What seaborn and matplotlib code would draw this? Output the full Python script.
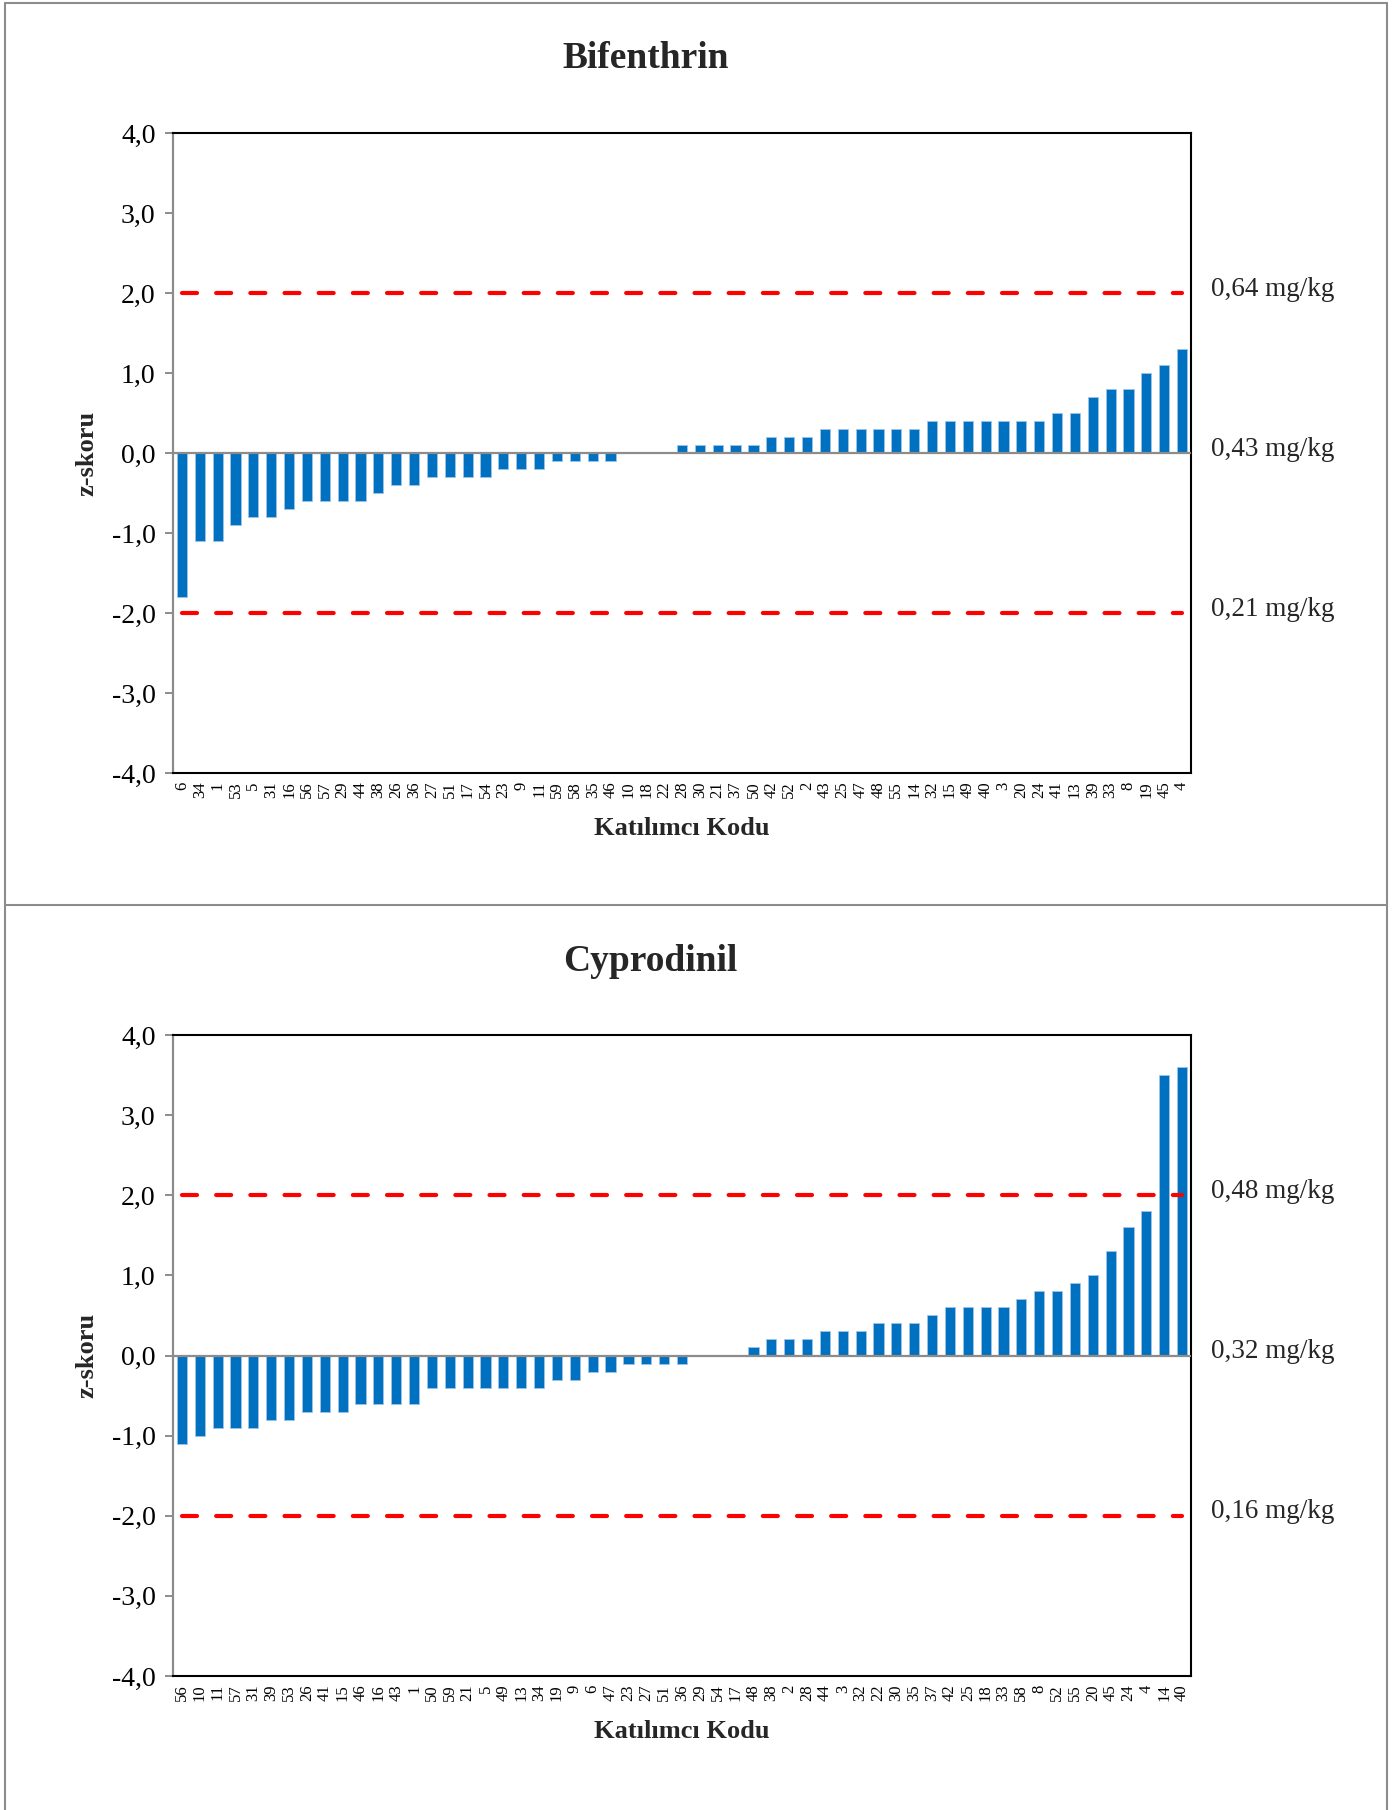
import matplotlib
matplotlib.use("Agg")
import matplotlib.pyplot as plt
import matplotlib.transforms as mtransforms
from matplotlib.lines import Line2D
from matplotlib.ticker import FuncFormatter
import seaborn as sns
import pandas as pd

# ---------------- data ----------------
bif_codes = ["6", "34", "1", "53", "5", "31", "16", "56", "57", "29", "44", "38", "26", "36",
             "27", "51", "17", "54", "23", "9", "11", "59", "58", "35", "46", "10", "18", "22",
             "28", "30", "21", "37", "50", "42", "52", "2", "43", "25", "47", "48", "55", "14",
             "32", "15", "49", "40", "3", "20", "24", "41", "13", "39", "33", "8", "19", "45", "4"]
bif_z = [-1.8, -1.1, -1.1, -0.9, -0.8, -0.8, -0.7, -0.6, -0.6, -0.6, -0.6, -0.5, -0.4, -0.4,
         -0.3, -0.3, -0.3, -0.3, -0.2, -0.2, -0.2, -0.1, -0.1, -0.1, -0.1, 0.0, 0.0, 0.0,
         0.1, 0.1, 0.1, 0.1, 0.1, 0.2, 0.2, 0.2, 0.3, 0.3, 0.3, 0.3, 0.3, 0.3,
         0.4, 0.4, 0.4, 0.4, 0.4, 0.4, 0.4, 0.5, 0.5, 0.7, 0.8, 0.8, 1.0, 1.1, 1.3]

cyp_codes = ["56", "10", "11", "57", "31", "39", "53", "26", "41", "15", "46", "16", "43", "1",
             "50", "59", "21", "5", "49", "13", "34", "19", "9", "6", "47", "23", "27", "51",
             "36", "29", "54", "17", "48", "38", "2", "28", "44", "3", "32", "22", "30", "35",
             "37", "42", "25", "18", "33", "58", "8", "52", "55", "20", "45", "24", "4", "14", "40"]
cyp_z = [-1.1, -1.0, -0.9, -0.9, -0.9, -0.8, -0.8, -0.7, -0.7, -0.7, -0.6, -0.6, -0.6, -0.6,
         -0.4, -0.4, -0.4, -0.4, -0.4, -0.4, -0.4, -0.3, -0.3, -0.2, -0.2, -0.1, -0.1, -0.1,
         -0.1, 0.0, 0.0, 0.0, 0.1, 0.2, 0.2, 0.2, 0.3, 0.3, 0.3, 0.4, 0.4, 0.4,
         0.5, 0.6, 0.6, 0.6, 0.6, 0.7, 0.8, 0.8, 0.9, 1.0, 1.3, 1.6, 1.8, 3.5, 3.6]

bif_limit_labels = ["0,64 mg/kg", "0,43 mg/kg", "0,21 mg/kg"]
cyp_limit_labels = ["0,48 mg/kg", "0,32 mg/kg", "0,16 mg/kg"]
limit_z = [2, 0, -2]
action_z = [2, -2]
y_ticks = [-4, -3, -2, -1, 0, 1, 2, 3, 4]

# ---------------- style ----------------
sns.set_theme(style="white")
plt.rcParams["font.family"] = ["Liberation Serif", "DejaVu Serif"]

W, H = 1394, 1810
fig = plt.figure(figsize=(W / 100, H / 100), dpi=100)
fig.patch.set_facecolor("white")


def fx(x):
    return x / W


def fy(y):
    return 1 - y / H


BAR = "#0070C0"
GRAY = "#8C8C8C"


def draw(ax, codes, z, labels):
    df = pd.DataFrame({"code": codes, "z": z})
    sns.barplot(data=df, x="code", y="z", order=codes, color=BAR, saturation=1,
                width=0.57, edgecolor="#9DC3E6", linewidth=0.6, ax=ax, zorder=2)
    n = len(codes)
    ax.set_xlim(-0.5, n - 0.5)
    ax.set_ylim(y_ticks[0], y_ticks[-1])
    ax.axhline(0, color=GRAY, lw=1.6, zorder=3)
    for v in action_z:
        ax.plot([0, n - 1], [v, v], color="#FF0000", lw=3.0,
                linestyle=(0, (3.6, 4.6)), dash_capstyle="round", zorder=4)
    ax.set_yticks(y_ticks)
    ax.yaxis.set_major_formatter(FuncFormatter(lambda v, p: f"{v:.1f}".replace(".", ",")))
    ax.tick_params(axis="y", which="major", left=True, direction="out", length=5.5,
                   width=1.4, color=GRAY, labelsize=20, pad=7, labelcolor="black")
    ax.tick_params(axis="x", which="major", bottom=False, length=0, labelsize=12,
                   labelrotation=90, pad=6, labelcolor="black")
    ax.set_xlabel("")
    ax.set_ylabel("")
    for side in ["top", "right", "bottom"]:
        ax.spines[side].set_color("black")
        ax.spines[side].set_linewidth(1.5)
        ax.spines[side].set_visible(True)
    ax.spines["left"].set_color(GRAY)
    ax.spines["left"].set_linewidth(1.6)
    ax.spines["left"].set_visible(True)
    ax.grid(False)
    ax.text(-0.0845, 0.5, "z-skoru", transform=ax.transAxes, rotation=90,
            ha="center", va="center", fontsize=19, fontweight="bold")
    ax.text(0.5, -0.086, "Katılımcı Kodu", transform=ax.transAxes,
            ha="center", va="center", fontsize=19, fontweight="bold")
    trans = mtransforms.blended_transform_factory(ax.transAxes, ax.transData)
    for v, lbl in zip(limit_z, labels):
        ax.text(1.0196, v + 0.05, lbl, transform=trans, ha="left", va="center", fontsize=19.5)


ax1 = fig.add_axes([fx(173), fy(773), fx(1191) - fx(173), fy(133) - fy(773)])
draw(ax1, bif_codes, bif_z, bif_limit_labels)
fig.text(fx(646), fy(58), "Bifenthrin", ha="center", va="center", fontsize=27, fontweight="bold")

ax2 = fig.add_axes([fx(173), fy(1676), fx(1191) - fx(173), fy(1035) - fy(1676)])
draw(ax2, cyp_codes, cyp_z, cyp_limit_labels)
fig.text(fx(650), fy(961), "Cyprodinil", ha="center", va="center", fontsize=27, fontweight="bold")

# outer frames
for (x0, y0, x1, y1) in [(5, 3, 1387, 3), (5, 905, 1387, 905), (5, 3, 5, 1810), (1387, 3, 1387, 1810)]:
    fig.add_artist(Line2D([fx(x0), fx(x1)], [fy(y0), fy(y1)], transform=fig.transFigure,
                          color=GRAY, lw=1.5))

fig.savefig("out.png", dpi=100, facecolor="white")
